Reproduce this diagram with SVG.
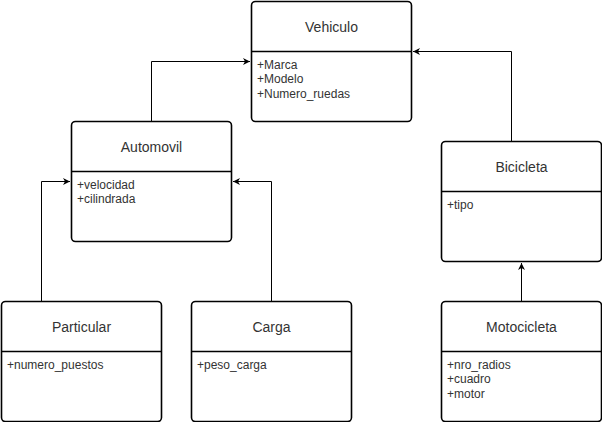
<svg xmlns="http://www.w3.org/2000/svg" width="602" height="422" viewBox="0 0 602 422">
<defs>
<marker id="arr" markerWidth="8" markerHeight="8" refX="7" refY="4" orient="auto" markerUnits="userSpaceOnUse"><path d="M0,0.5 L7,4 L0,7.5 L2,4 Z" fill="#000"/></marker>
<style>
.box{fill:#fff;stroke:#000;stroke-width:1.6}
.div{stroke:#000;stroke-width:1.6}
.t{font-family:"Liberation Sans",Arial,sans-serif;font-size:14px;fill:#333;text-anchor:middle}
.a{font-family:"Liberation Sans",Arial,sans-serif;font-size:12px;fill:#333}
.c{fill:none;stroke:#000;stroke-width:1}
</style>
</defs>
<rect width="602" height="422" fill="#fff"/>
<g id="connectors">
<path class="c" d="M151.5,121.5 V61.5 H250" marker-end="url(#arr)"/>
<path class="c" d="M511.5,141.5 V51.5 H413" marker-end="url(#arr)"/>
<path class="c" d="M41.5,301.5 V181.5 H70" marker-end="url(#arr)"/>
<path class="c" d="M271.5,301.5 V181.5 H233" marker-end="url(#arr)"/>
<path class="c" d="M521.5,301.5 V263" marker-end="url(#arr)"/>
</g>
<g id="Vehiculo">
<rect class="box" x="251.5" y="1.5" width="160" height="120" rx="4"/>
<line class="div" x1="251.5" y1="51.5" x2="411.5" y2="51.5"/>
<text class="t" x="331.5" y="31.5">Vehiculo</text>
<text class="a" x="257" y="68.5">+Marca</text>
<text class="a" x="257" y="83">+Modelo</text>
<text class="a" x="257" y="97.5">+Numero_ruedas</text>
</g>
<g id="Automovil">
<rect class="box" x="71.5" y="121.5" width="160" height="120" rx="4"/>
<line class="div" x1="71.5" y1="171.5" x2="231.5" y2="171.5"/>
<text class="t" x="151.5" y="151.5">Automovil</text>
<text class="a" x="77" y="188.5">+velocidad</text>
<text class="a" x="77" y="203">+cilindrada</text>
</g>
<g id="Bicicleta">
<rect class="box" x="441.5" y="141.5" width="160" height="120" rx="4"/>
<line class="div" x1="441.5" y1="191.5" x2="601.5" y2="191.5"/>
<text class="t" x="521.5" y="171.5">Bicicleta</text>
<text class="a" x="447" y="208.5">+tipo</text>
</g>
<g id="Particular">
<rect class="box" x="1.5" y="301.5" width="160" height="120" rx="4"/>
<line class="div" x1="1.5" y1="351.5" x2="161.5" y2="351.5"/>
<text class="t" x="81.5" y="331.5">Particular</text>
<text class="a" x="7" y="368.5">+numero_puestos</text>
</g>
<g id="Carga">
<rect class="box" x="191.5" y="301.5" width="160" height="120" rx="4"/>
<line class="div" x1="191.5" y1="351.5" x2="351.5" y2="351.5"/>
<text class="t" x="271.5" y="331.5">Carga</text>
<text class="a" x="197" y="368.5">+peso_carga</text>
</g>
<g id="Motocicleta">
<rect class="box" x="441.5" y="301.5" width="160" height="120" rx="4"/>
<line class="div" x1="441.5" y1="351.5" x2="601.5" y2="351.5"/>
<text class="t" x="521.5" y="331.5">Motocicleta</text>
<text class="a" x="447" y="368.5">+nro_radios</text>
<text class="a" x="447" y="383">+cuadro</text>
<text class="a" x="447" y="397.5">+motor</text>
</g>
</svg>
